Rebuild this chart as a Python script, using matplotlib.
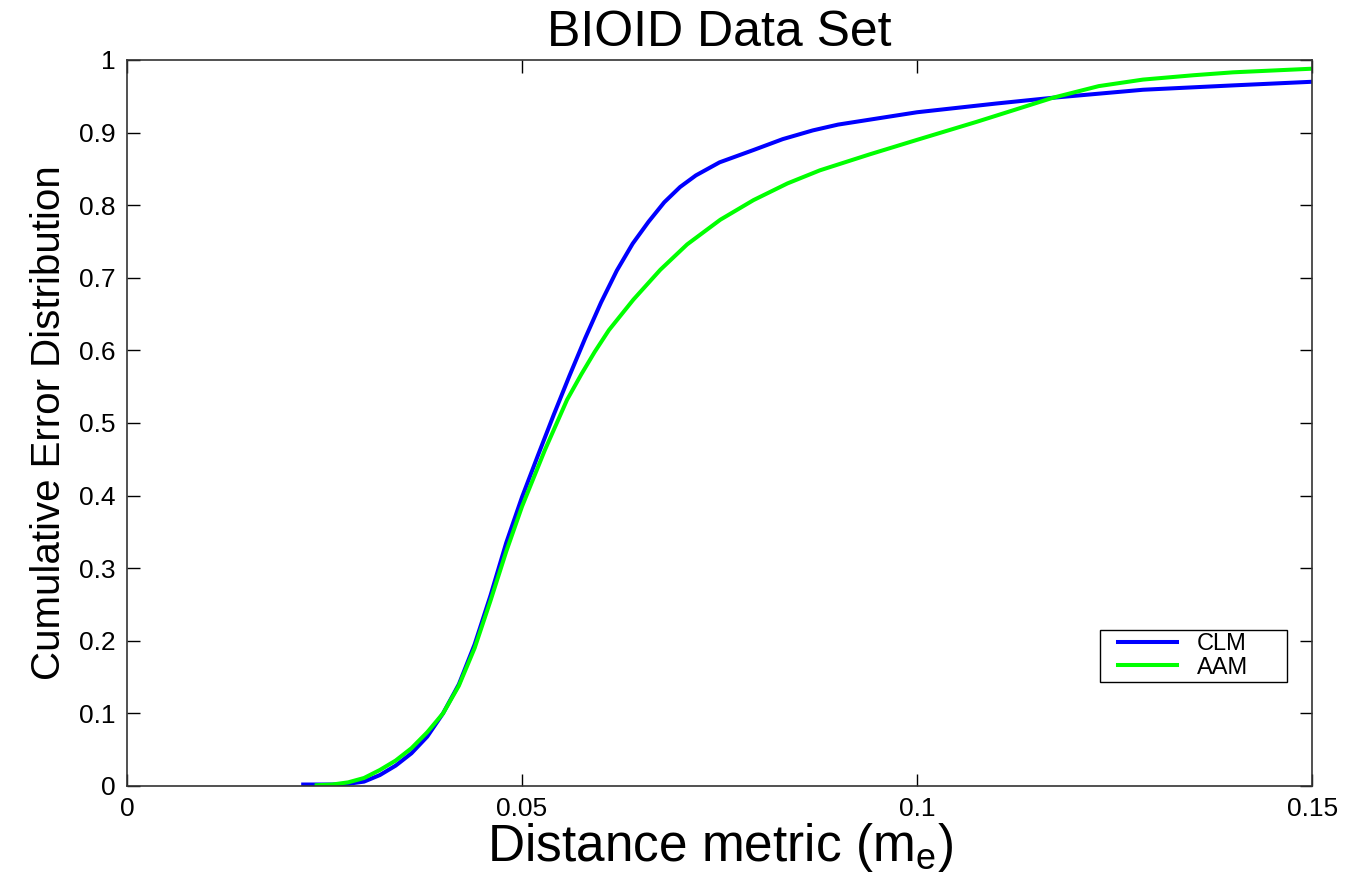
import numpy as np
import matplotlib.pyplot as plt
from matplotlib.lines import Line2D
from matplotlib.legend_handler import HandlerLine2D

plt.rcParams['font.family'] = ['Liberation Sans', 'DejaVu Sans']

# CLM curve
clm_x = [0.0223, 0.026, 0.028, 0.030, 0.032, 0.034, 0.036, 0.038, 0.040, 0.042,
         0.044, 0.046, 0.048, 0.050, 0.052, 0.054, 0.056, 0.058, 0.060, 0.062,
         0.064, 0.066, 0.068, 0.070, 0.072, 0.075, 0.0793, 0.083, 0.0868, 0.090,
         0.100, 0.110, 0.1172, 0.1286, 0.140, 0.150]
clm_y = [0.002, 0.002, 0.003, 0.006, 0.015, 0.028, 0.045, 0.068, 0.100, 0.140,
         0.195, 0.262, 0.335, 0.398, 0.455, 0.511, 0.565, 0.617, 0.666, 0.710,
         0.747, 0.777, 0.804, 0.825, 0.841, 0.859, 0.876, 0.891, 0.903, 0.911,
         0.928, 0.940, 0.948, 0.959, 0.965, 0.970]

# AAM curve
aam_x = [0.024, 0.026, 0.028, 0.030, 0.032, 0.034, 0.036, 0.038, 0.040, 0.042,
         0.044, 0.046, 0.048, 0.050, 0.0529, 0.0557, 0.0575, 0.0592, 0.061, 0.0641,
         0.0675, 0.0709, 0.0751, 0.0793, 0.0836, 0.0877, 0.094, 0.100, 0.1076, 0.1172,
         0.123, 0.1286, 0.135, 0.140, 0.150]
aam_y = [0.001, 0.002, 0.005, 0.011, 0.022, 0.035, 0.052, 0.074, 0.100, 0.138,
         0.190, 0.255, 0.323, 0.385, 0.463, 0.532, 0.567, 0.598, 0.628, 0.670,
         0.711, 0.746, 0.780, 0.807, 0.830, 0.848, 0.870, 0.890, 0.915, 0.948,
         0.964, 0.973, 0.979, 0.983, 0.988]

x_ticks = [0, 0.05, 0.1, 0.15]
x_labels = ['0', '0.05', '0.1', '0.15']
y_ticks = [0, 0.1, 0.2, 0.3, 0.4, 0.5, 0.6, 0.7, 0.8, 0.9, 1.0]
y_labels = ['0', '0.1', '0.2', '0.3', '0.4', '0.5', '0.6', '0.7', '0.8', '0.9', '1']

fig = plt.figure(figsize=(13.5, 8.77), dpi=100)
ax = fig.add_axes([0.0941, 0.1038, 0.8778, 0.8278])

ax.plot(clm_x, clm_y, color='#0000ff', lw=2.9, label='CLM')
ax.plot(aam_x, aam_y, color='#00ff00', lw=2.9, label='AAM')

ax.set_xlim(0, 0.15)
ax.set_ylim(0, 1)
ax.set_xticks(x_ticks)
ax.set_xticklabels(x_labels)
ax.set_yticks(y_ticks)
ax.set_yticklabels(y_labels)
ax.tick_params(direction='in', length=9, width=1, labelsize=19,
               top=True, right=True, pad=8)
for sp in ax.spines.values():
    sp.set_linewidth(1.2)
    sp.set_color('#333333')

ax.set_title('BIOID Data Set', fontsize=36, pad=10)
ax.set_xlabel('Distance metric (m$_\\mathregular{e}$)', fontsize=37, labelpad=0)
ax.set_ylabel('Cumulative Error Distribution', fontsize=29, labelpad=8)

# legend box like matlab: handles pushed in a bit from the left edge
leg = ax.legend(loc='lower left', bbox_to_anchor=(0.821, 0.143, 0.158, 0.085),
                mode='expand', borderaxespad=0,
                fontsize=17, fancybox=False, edgecolor='black', framealpha=1,
                handlelength=3.1, handletextpad=0.85, borderpad=0.15, labelspacing=0.05,
                handler_map={Line2D: HandlerLine2D(xpad=0.62)})
leg.get_frame().set_linewidth(1.0)

fig.savefig('out.png', dpi=100, facecolor='white')
